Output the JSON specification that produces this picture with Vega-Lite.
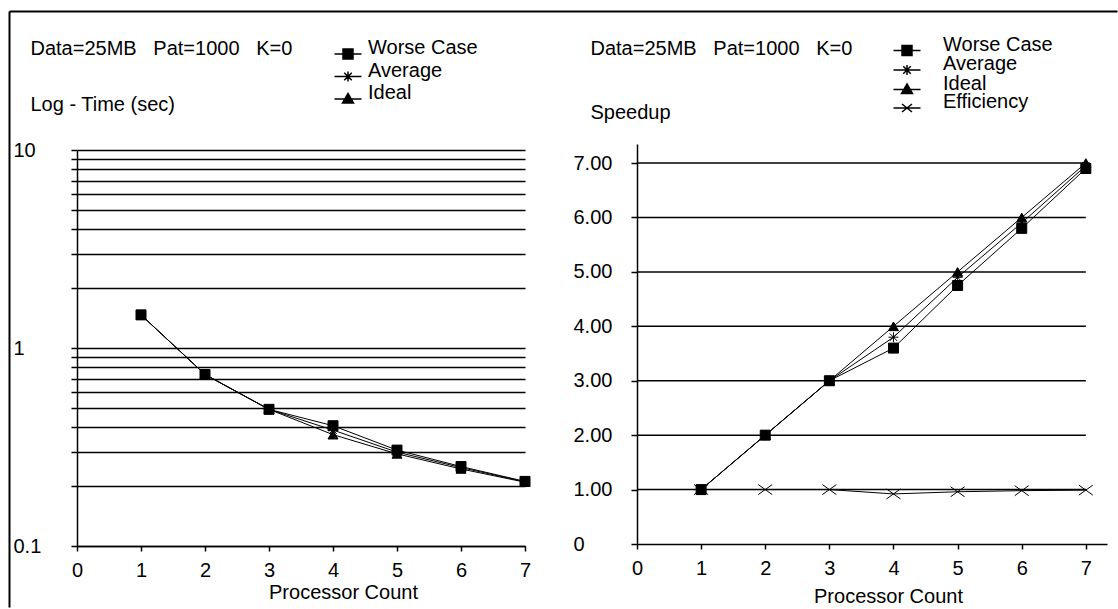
{
  "$schema": "https://vega.github.io/schema/vega-lite/v6.json",
  "padding": {"left": 9, "top": 11, "right": 0, "bottom": 0},
  "background": "white",
  "spacing": 112,
  "bounds": "flush",
  "config": {
    "font": "Liberation Sans",
    "view": {"stroke": null},
    "axis": {
      "labelFont": "Liberation Sans", "labelFontSize": 20, "labelColor": "black",
      "titleFont": "Liberation Sans", "titleFontSize": 20, "titleFontWeight": "normal", "titleColor": "black",
      "domainColor": "black", "domainWidth": 1.5, "tickColor": "black", "tickWidth": 1.5,
      "gridColor": "black", "gridWidth": 1.5, "gridOpacity": 1,
      "labelFlush": false, "labelOverlap": false
    },
    "legend": {
      "labelFont": "Liberation Sans", "labelFontSize": 20, "labelColor": "black",
      "padding": 0, "rowPadding": 0, "symbolSize": 100, "labelBaseline": "alphabetic"
    }
  },
  "datasets": {
    "time": [
      {"s": "Worse Case", "p": 1, "t": 1.47}, {"s": "Worse Case", "p": 2, "t": 0.735}, {"s": "Worse Case", "p": 3, "t": 0.49},
      {"s": "Worse Case", "p": 4, "t": 0.405}, {"s": "Worse Case", "p": 5, "t": 0.305}, {"s": "Worse Case", "p": 6, "t": 0.252}, {"s": "Worse Case", "p": 7, "t": 0.212},
      {"s": "Average", "p": 1, "t": 1.47}, {"s": "Average", "p": 2, "t": 0.735}, {"s": "Average", "p": 3, "t": 0.49},
      {"s": "Average", "p": 4, "t": 0.385}, {"s": "Average", "p": 5, "t": 0.298}, {"s": "Average", "p": 6, "t": 0.249}, {"s": "Average", "p": 7, "t": 0.211},
      {"s": "Ideal", "p": 1, "t": 1.47}, {"s": "Ideal", "p": 2, "t": 0.735}, {"s": "Ideal", "p": 3, "t": 0.49},
      {"s": "Ideal", "p": 4, "t": 0.365}, {"s": "Ideal", "p": 5, "t": 0.292}, {"s": "Ideal", "p": 6, "t": 0.245}, {"s": "Ideal", "p": 7, "t": 0.21}
    ],
    "speed": [
      {"s": "Worse Case", "p": 1, "sp": 1}, {"s": "Worse Case", "p": 2, "sp": 2}, {"s": "Worse Case", "p": 3, "sp": 3},
      {"s": "Worse Case", "p": 4, "sp": 3.6}, {"s": "Worse Case", "p": 5, "sp": 4.75}, {"s": "Worse Case", "p": 6, "sp": 5.8}, {"s": "Worse Case", "p": 7, "sp": 6.9},
      {"s": "Average", "p": 1, "sp": 1}, {"s": "Average", "p": 2, "sp": 2}, {"s": "Average", "p": 3, "sp": 3},
      {"s": "Average", "p": 4, "sp": 3.8}, {"s": "Average", "p": 5, "sp": 4.9}, {"s": "Average", "p": 6, "sp": 5.9}, {"s": "Average", "p": 7, "sp": 6.95},
      {"s": "Ideal", "p": 1, "sp": 1}, {"s": "Ideal", "p": 2, "sp": 2}, {"s": "Ideal", "p": 3, "sp": 3},
      {"s": "Ideal", "p": 4, "sp": 4}, {"s": "Ideal", "p": 5, "sp": 5}, {"s": "Ideal", "p": 6, "sp": 6}, {"s": "Ideal", "p": 7, "sp": 7},
      {"s": "Efficiency", "p": 1, "sp": 1}, {"s": "Efficiency", "p": 2, "sp": 1}, {"s": "Efficiency", "p": 3, "sp": 1},
      {"s": "Efficiency", "p": 4, "sp": 0.92}, {"s": "Efficiency", "p": 5, "sp": 0.96}, {"s": "Efficiency", "p": 6, "sp": 0.98}, {"s": "Efficiency", "p": 7, "sp": 0.99}
    ],
    "rgrid": [{"sp": 1}, {"sp": 2}, {"sp": 3}, {"sp": 4}, {"sp": 5}, {"sp": 6}, {"sp": 7}]
  },
  "hconcat": [
    {
      "width": 448,
      "height": 402,
      "data": {"name": "time"},
      "layer": [
        {
          "encoding": {
            "x": {
              "field": "p", "type": "quantitative",
              "scale": {"domain": [0, 7], "nice": false},
              "axis": {
                "values": [0, 1, 2, 3, 4, 5, 6, 7], "grid": false, "tickSize": 5, "labelPadding": 9.5, "format": "d",
                "title": "Processor Count", "titleX": 266, "titleY": 52, "titleAlign": "center", "titleBaseline": "alphabetic", "titleAnchor": null
              }
            },
            "y": {
              "field": "t", "type": "quantitative",
              "scale": {"type": "log", "domain": [0.1, 10], "range": [402, 6], "nice": false},
              "axis": {
                "values": [0.1, 0.2, 0.3, 0.4, 0.5, 0.6, 0.7, 0.8, 0.9, 1, 2, 3, 4, 5, 6, 7, 8, 9, 10],
                "grid": true, "tickSize": 6, "labelAlign": "left", "labelBaseline": "middle", "labelPadding": 58,
                "labelExpr": "datum.value == 10 ? '10' : datum.value == 1 ? '1' : datum.value == 0.1 ? '0.1' : ''",
                "title": ["Data=25MB\u00a0\u00a0\u00a0Pat=1000\u00a0\u00a0\u00a0K=0", "Log - Time (sec)"],
                "titleAngle": 0, "titleAlign": "left", "titleBaseline": "top", "titleX": -47, "titleY": -106, "titleLineHeight": 56
              }
            }
          },
          "layer": [
            {
              "mark": {"type": "line", "color": "black", "strokeWidth": 1},
              "encoding": {"detail": {"field": "s", "type": "nominal"}}
            },
            {
              "mark": {"type": "point", "filled": true, "fill": "black", "stroke": "black", "strokeWidth": 1, "size": 100, "opacity": 1},
              "encoding": {
                "shape": {
                  "field": "s", "type": "nominal",
                  "scale": {
                    "domain": ["Worse Case", "Average", "Ideal"],
                    "range": ["square", "M-1,0L1,0M0,-1L0,1M-0.75,-0.75L0.75,0.75M-0.75,0.75L0.75,-0.75", "triangle-up"]
                  },
                  "legend": null
                }
              }
            },
            {
              "transform": [{"filter": "false"}],
              "mark": {"type": "point", "filled": true, "fill": "black", "stroke": "black", "strokeWidth": 1.5, "size": 100, "opacity": 1},
              "encoding": {
                "shape": {
                  "field": "s", "type": "nominal",
                  "scale": {
                    "domain": ["Worse Case", "Average", "Ideal"],
                    "range": [
                      "M-2.7,0L2.7,0M-1,-1L1,-1L1,1L-1,1Z",
                      "M-2.7,0L2.7,0M-1,0L1,0M0,-1L0,1M-0.75,-0.75L0.75,0.75M-0.75,0.75L0.75,-0.75",
                      "M-2.7,0L2.7,0M0,-1.1L1.1,0.8L-1.1,0.8Z"
                    ]
                  },
                  "legend": {
                    "title": null, "orient": "none", "legendX": 261, "legendY": -100,
                    "rowPadding": -1.5, "labelOffset": 10
                  }
                }
              }
            }
          ],
          "resolve": {"scale": {"shape": "independent"}}
        },
        {
          "transform": [{"filter": "false"}],
          "mark": {"type": "point", "opacity": 0},
          "encoding": {
            "x": {
              "field": "p", "type": "quantitative",
              "scale": {"domain": [0, 1], "range": [-68, 1040], "nice": false, "zero": false},
              "axis": {"orient": "top", "offset": 133, "labels": false, "ticks": false, "grid": false, "title": null, "domainWidth": 2}
            },
            "y": {
              "field": "t", "type": "quantitative",
              "scale": {"domain": [0, 1], "range": [463, -133], "nice": false, "zero": false},
              "axis": {"orient": "left", "offset": 68, "labels": false, "ticks": false, "grid": false, "title": null, "domainWidth": 2}
            }
          }
        }
      ],
      "resolve": {"scale": {"x": "independent", "y": "independent"}, "axis": {"x": "independent", "y": "independent"}}
    },
    {
      "width": 470,
      "height": 400,
      "layer": [
        {
          "data": {"name": "rgrid"},
          "mark": {"type": "rule", "color": "black", "strokeWidth": 1.5},
          "encoding": {
            "y": {"field": "sp", "type": "quantitative"},
            "x": {"datum": 0, "type": "quantitative"},
            "x2": {"datum": 7}
          }
        },
        {
          "data": {"name": "speed"},
          "mark": {"type": "line", "color": "black", "strokeWidth": 1},
          "encoding": {
            "x": {
              "field": "p", "type": "quantitative",
              "scale": {"domain": [0, 7.33], "nice": false},
              "axis": {
                "values": [0, 1, 2, 3, 4, 5, 6, 7], "grid": false, "tickSize": 5, "labelPadding": 9.5, "format": "d",
                "title": "Processor Count", "titleX": 251, "titleY": 58, "titleAlign": "center", "titleBaseline": "alphabetic", "titleAnchor": null
              }
            },
            "y": {
              "field": "sp", "type": "quantitative",
              "scale": {"domain": [0, 7.35], "nice": false},
              "axis": {
                "values": [0, 1, 2, 3, 4, 5, 6, 7], "grid": false, "tickSize": 6,
                "labelAlign": "left", "labelBaseline": "middle", "labelPadding": 58,
                "labelExpr": "datum.value == 0 ? '0' : format(datum.value, '.2f')",
                "title": ["Data=25MB\u00a0\u00a0\u00a0Pat=1000\u00a0\u00a0\u00a0K=0", "Speedup"],
                "titleAngle": 0, "titleAlign": "left", "titleBaseline": "top", "titleX": -47, "titleY": -106, "titleLineHeight": 64
              }
            },
            "detail": {"field": "s", "type": "nominal"}
          }
        },
        {
          "data": {"name": "speed"},
          "mark": {"type": "point", "filled": true, "fill": "black", "stroke": "black", "strokeWidth": 1, "size": 100, "opacity": 1},
          "encoding": {
            "x": {"field": "p", "type": "quantitative"},
            "y": {"field": "sp", "type": "quantitative"},
            "shape": {
              "field": "s", "type": "nominal",
              "scale": {
                "domain": ["Worse Case", "Average", "Ideal", "Efficiency"],
                "range": ["square", "M-1,0L1,0M0,-1L0,1M-0.75,-0.75L0.75,0.75M-0.75,0.75L0.75,-0.75", "triangle-up", "M-1.4,-1L1.4,1M-1.4,1L1.4,-1"]
              },
              "legend": null
            }
          }
        },
        {
          "data": {"name": "speed"},
          "transform": [{"filter": "false"}],
          "mark": {"type": "point", "filled": true, "fill": "black", "stroke": "black", "strokeWidth": 1.5, "size": 100, "opacity": 1},
          "encoding": {
            "x": {"field": "p", "type": "quantitative"},
            "y": {"field": "sp", "type": "quantitative"},
            "shape": {
              "field": "s", "type": "nominal",
              "scale": {
                "domain": ["Worse Case", "Average", "Ideal", "Efficiency"],
                "range": [
                  "M-2.7,0L2.7,0M-1,-1L1,-1L1,1L-1,1Z",
                  "M-2.7,0L2.7,0M-1,0L1,0M0,-1L0,1M-0.75,-0.75L0.75,0.75M-0.75,0.75L0.75,-0.75",
                  "M-2.7,0L2.7,0M0,-1.1L1.1,0.8L-1.1,0.8Z",
                  "M-2.7,0L2.7,0M-1,-0.8L1,0.8M-1,0.8L1,-0.8"
                ]
              },
              "legend": {
                "title": null, "orient": "none", "legendX": 260, "legendY": -103.5,
                "rowPadding": -4.5, "labelOffset": 26
              }
            }
          }
        }
      ],
      "resolve": {"scale": {"shape": "independent"}}
    }
  ],
  "resolve": {"scale": {"shape": "independent", "x": "independent", "y": "independent"}, "legend": {"shape": "independent"}}
}
